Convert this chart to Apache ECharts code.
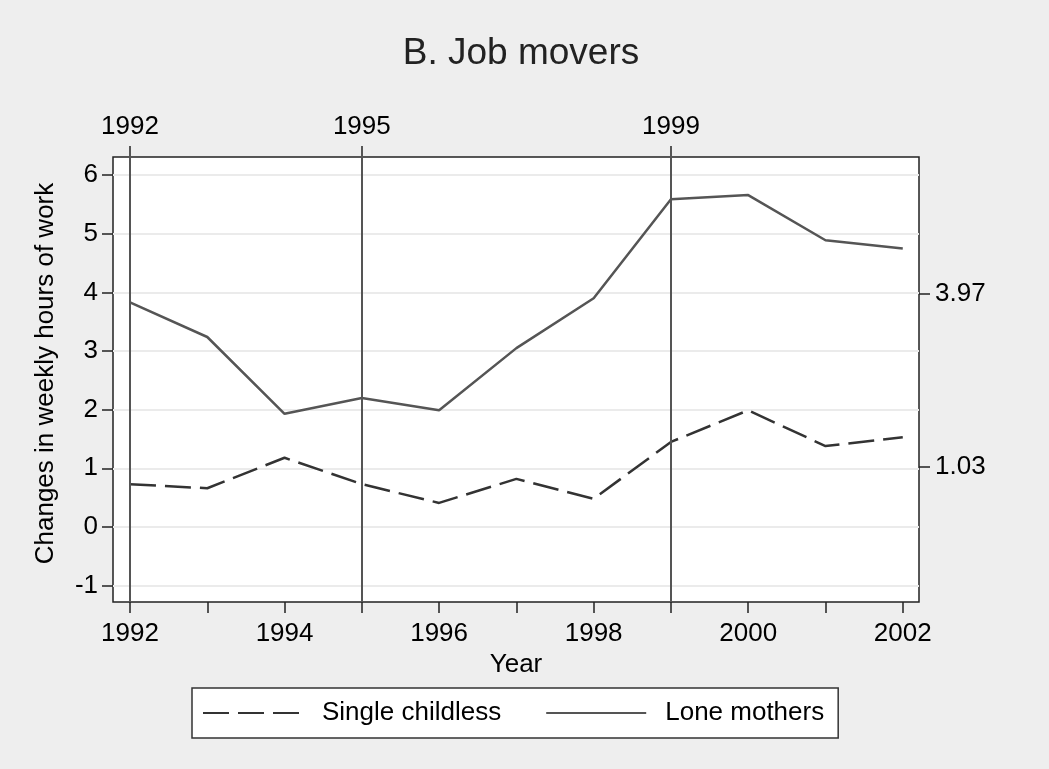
<!DOCTYPE html>
<html>
<head>
<meta charset="utf-8">
<script src="https://cdn.jsdelivr.net/npm/echarts@6/dist/echarts.min.js"></script>
<style>html,body{margin:0;padding:0;background:#eeeeee;}#c{width:1049px;height:769px;}</style>
</head>
<body>
<div id="c"></div>
<script>
const years = [1992,1993,1994,1995,1996,1997,1998,1999,2000,2001,2002];
const singleChildless = [0.73,0.66,1.18,0.73,0.41,0.82,0.48,1.45,1.99,1.38,1.53];
const loneMothers = [3.83,3.24,1.93,2.20,1.99,3.05,3.90,5.59,5.66,4.89,4.75];
const yTicks = [-1,0,1,2,3,4,5,6];
const xLabelYears = [1992,1994,1996,1998,2000,2002];
const reformYears = [1992,1995,1999];
const meanTicks = [1.03,3.97];

const FONT = 'Liberation Sans, Arial, sans-serif';
const TXT = '#000';
const FS = 26;
const chart = echarts.init(document.getElementById('c'), null, {renderer:'canvas'});
const yMin = -1.28, yMax = 6.31, xMin = 1991.78, xMax = 2002.21;
chart.setOption({
  backgroundColor: '#eeeeee',
  animation: false,
  title: {
    text: 'B. Job movers', left: 516, top: 30, textAlign: 'center',
    textStyle: {fontFamily: FONT, fontSize: 37, fontWeight: 'normal', color: '#222'}
  },
  legend: {
    left: 192, top: 688,
    backgroundColor: '#fff', borderColor: '#333', borderWidth: 1.5,
    padding: [12, 14, 12, 10],
    itemWidth: 100, itemHeight: 26, itemGap: 44,
    itemStyle: {opacity: 0},
    textStyle: {fontFamily: FONT, fontSize: FS, color: TXT, padding: [0,0,0,14]},
    data: ['Single childless', 'Lone mothers']
  },
  grid: {
    left: 113, top: 157, right: 130, bottom: 167,
    show: true, backgroundColor: '#fff', borderColor: '#222', borderWidth: 1.5
  },
  xAxis: [{
    type: 'value', min: xMin, max: xMax, position: 'bottom',
    name: 'Year', nameLocation: 'middle', nameGap: 44,
    nameTextStyle: {fontFamily: FONT, fontSize: FS, color: TXT},
    axisLine: {show: false, onZero: false},
    axisTick: {show: true, length: 11, customValues: years, lineStyle: {color: '#222', width: 1.5}},
    axisLabel: {customValues: xLabelYears, margin: 19, fontFamily: FONT, fontSize: FS, color: TXT,
      formatter: v => String(v)},
    splitLine: {show: false}
  }, {
    type: 'value', min: xMin, max: xMax, position: 'top',
    axisLine: {show: false, onZero: false},
    axisTick: {show: true, length: 11, customValues: reformYears, lineStyle: {color: '#555', width: 2}},
    axisLabel: {customValues: reformYears, margin: 17, fontFamily: FONT, fontSize: FS, color: TXT,
      formatter: v => String(v)},
    splitLine: {show: false}
  }],
  yAxis: [{
    type: 'value', min: yMin, max: yMax, position: 'left',
    name: 'Changes in weekly hours of work', nameLocation: 'middle', nameGap: 54,
    nameTextStyle: {fontFamily: FONT, fontSize: FS, color: TXT, padding: [0,0,0,12]},
    axisLine: {show: false, onZero: false},
    axisTick: {show: true, length: 11, customValues: yTicks, lineStyle: {color: '#222', width: 1.5}},
    axisLabel: {customValues: yTicks, margin: 15, fontFamily: FONT, fontSize: FS, color: TXT},
    splitLine: {show: true, lineStyle: {color: '#ebebeb', width: 2}}
  }, {
    type: 'value', min: yMin, max: yMax, position: 'right',
    axisLine: {show: false, onZero: false},
    axisTick: {show: true, length: 11, customValues: meanTicks, lineStyle: {color: '#222', width: 1.5}},
    axisLabel: {customValues: meanTicks, margin: 16, fontFamily: FONT, fontSize: FS, color: TXT,
      formatter: v => v.toFixed(2)},
    splitLine: {show: false}
  }],
  series: [{
    name: 'Single childless', type: 'line',
    data: years.map((y,i) => [y, singleChildless[i]]),
    symbol: 'none', color: '#333',
    lineStyle: {color: '#333', width: 2.5, type: [26, 9]},
    z: 3
  }, {
    name: 'Lone mothers', type: 'line',
    data: years.map((y,i) => [y, loneMothers[i]]),
    symbol: 'none', color: '#555',
    lineStyle: {color: '#555', width: 2.5},
    z: 3,
    markLine: {
      silent: true, symbol: 'none', label: {show: false},
      lineStyle: {color: '#555', width: 2, type: 'solid'},
      data: reformYears.map(y => ({xAxis: y}))
    }
  }]
});
</script>
</body>
</html>
